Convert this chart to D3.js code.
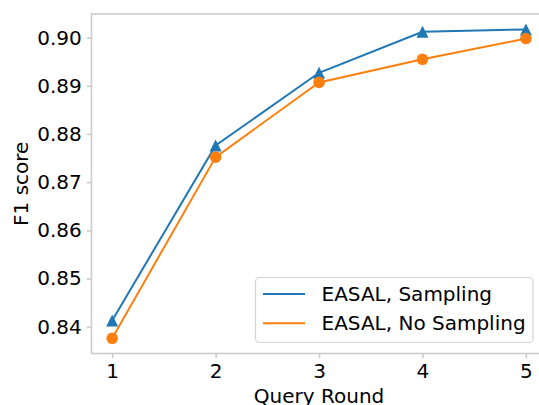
<!DOCTYPE html>
<html><head><meta charset="utf-8">
<script src="https://cdn.jsdelivr.net/npm/d3@7"></script>
<style>
body{margin:0;background:#fff;}
text{font-family:"DejaVu Sans",sans-serif;}
</style></head>
<body>
<svg id="c" width="539" height="405"></svg>
<script>
const rounds = [1, 2, 3, 4, 5];
const sampling = [0.8413, 0.8776, 0.8927, 0.9012, 0.9017];
const noSampling = [0.8376, 0.8752, 0.8907, 0.8955, 0.8998];
const yTicks = [0.84, 0.85, 0.86, 0.87, 0.88, 0.89, 0.90];
const seriesNames = ["EASAL, Sampling", "EASAL, No Sampling"];
const colors = ["#1f77b4", "#ff7f0e"];

const svg = d3.select("#c");
const L = 91.5, R = 546.6, T = 14, B = 353.5;
const x = d3.scaleLinear().domain([0.8, 5.2]).range([L, R]);
const y = d3.scaleLinear().domain([0.83444, 0.9049]).range([B, T]);
const spine = "#cccccc";
const fs = 20;

// spines
svg.append("rect").attr("x", L).attr("y", T).attr("width", R - L).attr("height", B - T)
  .attr("fill", "none").attr("stroke", spine).attr("stroke-width", 1.6);

// axes
const yAx = svg.append("g").attr("transform", `translate(${L},0)`)
  .call(d3.axisLeft(y).tickValues(yTicks).tickFormat(d3.format(".2f")).tickSize(4.8).tickPadding(5));
const xAx = svg.append("g").attr("transform", `translate(0,${B})`)
  .call(d3.axisBottom(x).tickValues(rounds).tickFormat(d3.format("d")).tickSize(4.8).tickPadding(5));
[yAx, xAx].forEach(g => {
  g.select(".domain").remove();
  g.selectAll(".tick line").attr("stroke", spine).attr("stroke-width", 1.6);
  g.selectAll(".tick text").attr("fill", "#000").style("font-size", fs + "px")
    .style("font-family", "DejaVu Sans");
});
xAx.selectAll(".tick text").attr("dy", null).attr("y", 24.5);

// labels
svg.append("text").attr("x", (L + R) / 2).attr("y", 403).attr("text-anchor", "middle")
  .style("font-size", fs + "px").text("Query Round");
svg.append("text").attr("transform", `translate(28,${(T + B) / 2}) rotate(-90)`)
  .attr("text-anchor", "middle").style("font-size", fs + "px").text("F1 score");

const line = d3.line().x((d, i) => x(rounds[i])).y(d => y(d));
const data = [sampling, noSampling];
data.forEach((s, k) => {
  svg.append("path").datum(s).attr("d", line).attr("fill", "none")
    .attr("stroke", colors[k]).attr("stroke-width", 2);
});
// markers
svg.append("g").selectAll("path").data(sampling).join("path")
  .attr("transform", (d, i) => `translate(${x(rounds[i])},${y(d)})`)
  .attr("d", "M0,-6L6,6L-6,6Z").attr("fill", colors[0]);
svg.append("g").selectAll("circle").data(noSampling).join("circle")
  .attr("cx", (d, i) => x(rounds[i])).attr("cy", d => y(d)).attr("r", 5.8).attr("fill", colors[1]);

// legend
const lg = svg.append("g");
lg.append("rect").attr("x", 255.5).attr("y", 277.5).attr("width", 277.5).attr("height", 65)
  .attr("rx", 4).attr("fill", "#fff").attr("fill-opacity", 0.8).attr("stroke", "#d5d5d5").attr("stroke-width", 1.2);
seriesNames.forEach((n, k) => {
  const yy = 294 + k * 29.3;
  lg.append("line").attr("x1", 263).attr("x2", 305).attr("y1", yy).attr("y2", yy)
    .attr("stroke", colors[k]).attr("stroke-width", 2);
  lg.append("text").attr("x", 321.5).attr("y", yy + 7).style("font-size", fs + "px").text(n);
});
</script>
</body></html>
